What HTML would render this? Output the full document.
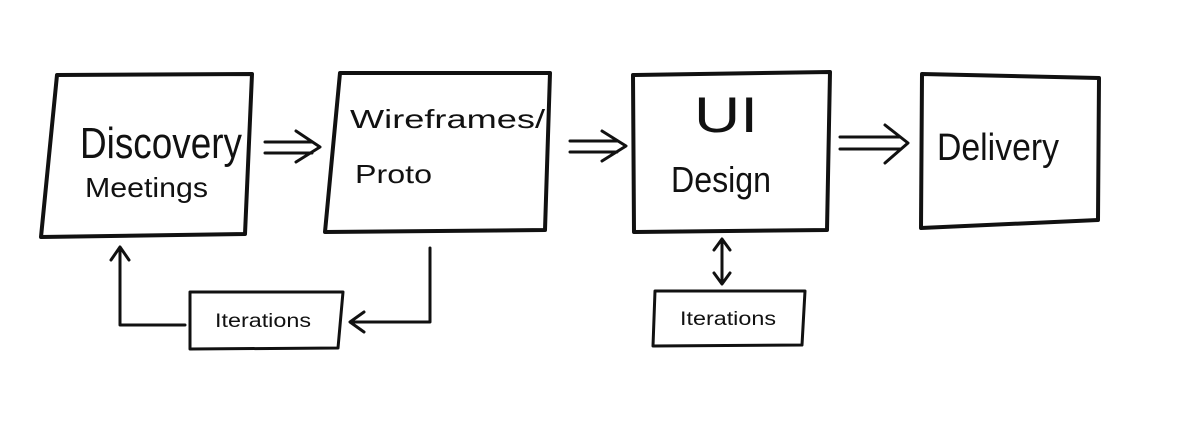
<!DOCTYPE html>
<html><head><style>html,body{margin:0;padding:0;background:#fff}svg{display:block}</style></head>
<body>
<svg width="1200" height="431" viewBox="0 0 1200 431" xmlns="http://www.w3.org/2000/svg">
<g fill="none" stroke="#111" stroke-width="4" stroke-linejoin="round" stroke-linecap="round">
<polygon points="57,75 252,74 245,234 41,237"/>
<polygon points="340,73 550,73 545,230 325,232"/>
<polygon points="633,75 830,72 827,230 634,232"/>
<polygon points="922,74 1099,78 1098,220 921,228"/>
<g stroke-width="3">
<polygon points="190,292 343,292 338,348 190,349"/>
<polygon points="655,291 805,291 802,345 653,346"/>
<!-- double arrows -->
<path d="M265,142 H312 M265,153 H312 M296,131 L320,147 L296,162"/>
<path d="M570,141 H617 M570,152 H617 M602,131 L626,146 L602,161"/>
<path d="M840,137 H900 M840,149 H900 M885,125 L908,143 L885,163"/>
<!-- loop -->
<path d="M430,248 V322 H352 M364,312 L350,322 L364,332"/>
<path d="M185,325 H120 V248 M111,260 L120,247 L129,260"/>
<path d="M722,240 V283 M714,250 L722,239 L730,250 M714,273 L722,284 L730,273"/>
</g>
</g>
<g fill="#111" font-family="Liberation Sans, sans-serif">
<text x="80" y="158" font-size="44" textLength="162" lengthAdjust="spacingAndGlyphs">Discovery</text>
<text x="85" y="197" font-size="28" textLength="123" lengthAdjust="spacingAndGlyphs">Meetings</text>
<text x="350" y="128" font-size="26" textLength="195" lengthAdjust="spacingAndGlyphs">Wireframes/</text>
<text x="355" y="183" font-size="26" textLength="77" lengthAdjust="spacingAndGlyphs">Proto</text>
<text x="694" y="132" font-size="50" textLength="64" lengthAdjust="spacingAndGlyphs">UI</text>
<text x="671" y="192" font-size="36" textLength="100" lengthAdjust="spacingAndGlyphs">Design</text>
<text x="937" y="160" font-size="38" textLength="122" lengthAdjust="spacingAndGlyphs">Delivery</text>
<text x="215" y="327" font-size="19" textLength="96" lengthAdjust="spacingAndGlyphs">Iterations</text>
<text x="680" y="325" font-size="19" textLength="96" lengthAdjust="spacingAndGlyphs">Iterations</text>
</g>
</svg>
</body></html>
